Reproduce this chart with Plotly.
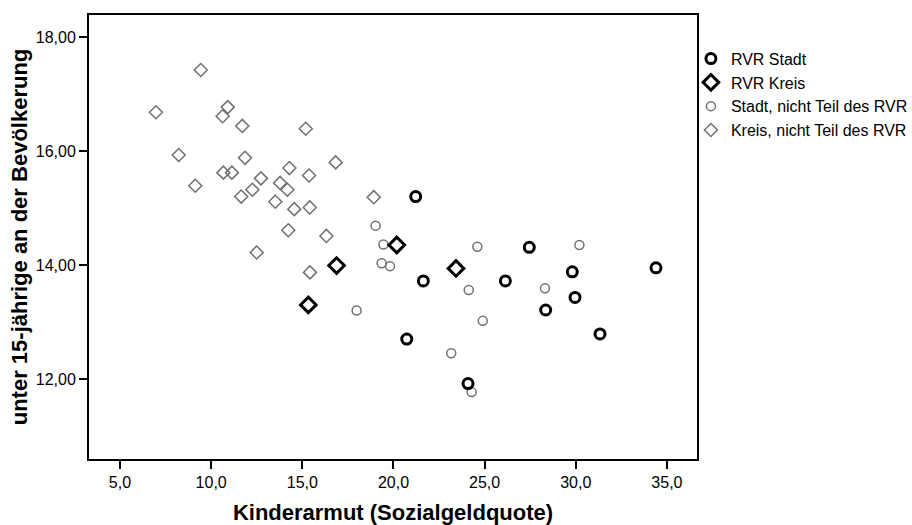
import plotly.graph_objects as go

# Kinderarmut (Sozialgeldquote) vs. share of under-15-year-olds, by district type

rvr_stadt_x = [21.22, 21.64, 20.73, 27.45, 26.14, 29.81, 29.96, 28.35, 31.33, 34.40, 24.09]
rvr_stadt_y = [15.20, 13.72, 12.70, 14.31, 13.72, 13.88, 13.43, 13.21, 12.79, 13.95, 11.92]

rvr_kreis_x = [16.88, 15.33, 20.18, 23.43]
rvr_kreis_y = [13.99, 13.30, 14.35, 13.94]

stadt_x = [19.02, 19.45, 19.35, 19.81, 17.98, 24.60, 30.20, 24.13, 28.31, 24.90, 23.17, 24.29]
stadt_y = [14.69, 14.36, 14.03, 13.98, 13.20, 14.32, 14.35, 13.56, 13.59, 13.02, 12.45, 11.77]

kreis_x = [9.43, 6.97, 10.91, 10.63, 11.71, 15.19, 8.22, 11.86, 16.83, 10.67, 11.14,
           14.29, 15.37, 9.13, 12.73, 12.26, 11.65, 13.78, 14.18, 13.52, 14.56, 15.41,
           18.92, 14.23, 16.32, 12.50, 15.42]
kreis_y = [17.42, 16.68, 16.77, 16.61, 16.44, 16.39, 15.93, 15.88, 15.80, 15.62, 15.62,
           15.70, 15.57, 15.39, 15.52, 15.32, 15.20, 15.44, 15.32, 15.11, 14.98, 15.01,
           15.19, 14.61, 14.51, 14.22, 13.87]

x_ticks = [5, 10, 15, 20, 25, 30, 35]
x_tick_labels = ["5,0", "10,0", "15,0", "20,0", "25,0", "30,0", "35,0"]
y_ticks = [12, 14, 16, 18]
y_tick_labels = ["12,00", "14,00", "16,00", "18,00"]

GRAY = "#707070"
FONT = "Liberation Sans, Arial, sans-serif"

fig = go.Figure()

# gray groups first so the black RVR markers sit on top
fig.add_trace(go.Scatter(
    x=kreis_x, y=kreis_y, mode="markers", name="Kreis, nicht Teil des RVR",
    marker=dict(symbol="diamond-open", size=10, color=GRAY, line=dict(width=1.5, color=GRAY)),
))
fig.add_trace(go.Scatter(
    x=stadt_x, y=stadt_y, mode="markers", name="Stadt, nicht Teil des RVR",
    marker=dict(symbol="circle-open", size=9, color=GRAY, line=dict(width=1.5, color=GRAY)),
))
fig.add_trace(go.Scatter(
    x=rvr_kreis_x, y=rvr_kreis_y, mode="markers", name="RVR Kreis",
    marker=dict(symbol="diamond-open", size=12, color="black", line=dict(width=3, color="black")),
))
fig.add_trace(go.Scatter(
    x=rvr_stadt_x, y=rvr_stadt_y, mode="markers", name="RVR Stadt",
    marker=dict(symbol="circle-open", size=10, color="black", line=dict(width=3, color="black")),
))

axis_common = dict(
    showline=True, linecolor="black", linewidth=2, mirror=True,
    ticks="outside", ticklen=8, tickwidth=2, tickcolor="black",
    showgrid=False, zeroline=False,
    tickfont=dict(family=FONT, size=16, color="black"),
)

fig.update_xaxes(
    range=[3.3, 36.65], tickvals=x_ticks, ticktext=x_tick_labels,
    title=dict(text="<b>Kinderarmut (Sozialgeldquote)</b>", standoff=14,
               font=dict(family=FONT, size=22, color="black")),
    **axis_common,
)
fig.update_yaxes(
    range=[10.596, 18.386], tickvals=y_ticks, ticktext=y_tick_labels,
    title=dict(text="<b>unter 15-jährige an der Bevölkerung</b>", standoff=2,
               font=dict(family=FONT, size=22, color="black")),
    **axis_common,
)

fig.update_layout(
    width=912, height=525,
    margin=dict(l=89, r=215, t=15, b=66, autoexpand=False),
    paper_bgcolor="white", plot_bgcolor="white",
    font=dict(family=FONT, color="black"),
    legend=dict(
        x=0.99, y=0.94, xanchor="left", yanchor="top",
        traceorder="reversed", tracegroupgap=0,
        font=dict(family=FONT, size=16, color="black"),
        itemwidth=30, bgcolor="rgba(0,0,0,0)",
    ),
)

fig.write_html("out.html")
